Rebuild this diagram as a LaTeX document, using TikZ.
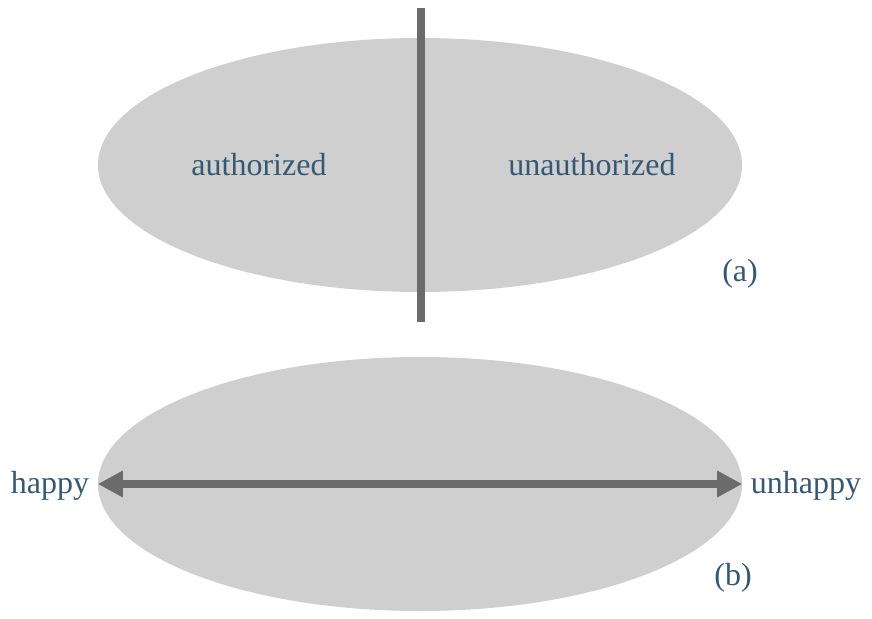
\documentclass[tikz,border=0pt]{standalone}
\usepackage{fontspec}
\setmainfont{Liberation Serif}
\usetikzlibrary{shapes.geometric,arrows.meta}
\definecolor{blobgray}{HTML}{CFCFCF}
\definecolor{bargray}{HTML}{6B6B6B}
\definecolor{labelblue}{HTML}{365873}
\tikzset{
  blob/.style={ellipse, fill=blobgray, draw=none, inner sep=0pt,
               minimum width=644pt, minimum height=254pt},
  lbl/.style={text=labelblue, font=\fontsize{32}{36}\selectfont, inner sep=0pt},
  bar/.style={draw=bargray, line width=8pt},
  tip/.style={-{Triangle[length=25pt,width=25pt]}}
}
\begin{document}
\begin{tikzpicture}[x=1pt,y=-1pt]
  \useasboundingbox (0,0) rectangle (872,618);
  % (a) partitioned set
  \node[blob] (ea) at (420,165) {};
  \coordinate (ctop) at (421,8);
  \coordinate (cbot) at (421,322);
  \draw[bar] (ctop) -- (cbot);
  \node[lbl] (auth) at (259,165) {authorized};
  \node[lbl] (unauth) at (592,165) {unauthorized};
  \node[lbl] (la) at (740,274) {(a)};
  % (b) continuum
  \node[blob] (eb) at (420,484) {};
  \draw[bar, {Triangle[length=25pt,width=25pt]}-{Triangle[length=25pt,width=25pt]}] (eb.west) -- (eb.east);
  \node[lbl] (happy) at (50,486) {happy};
  \node[lbl] (unhappy) at (806,486) {unhappy};
  \node[lbl] (lb) at (733,578) {(b)};
\end{tikzpicture}
\end{document}
